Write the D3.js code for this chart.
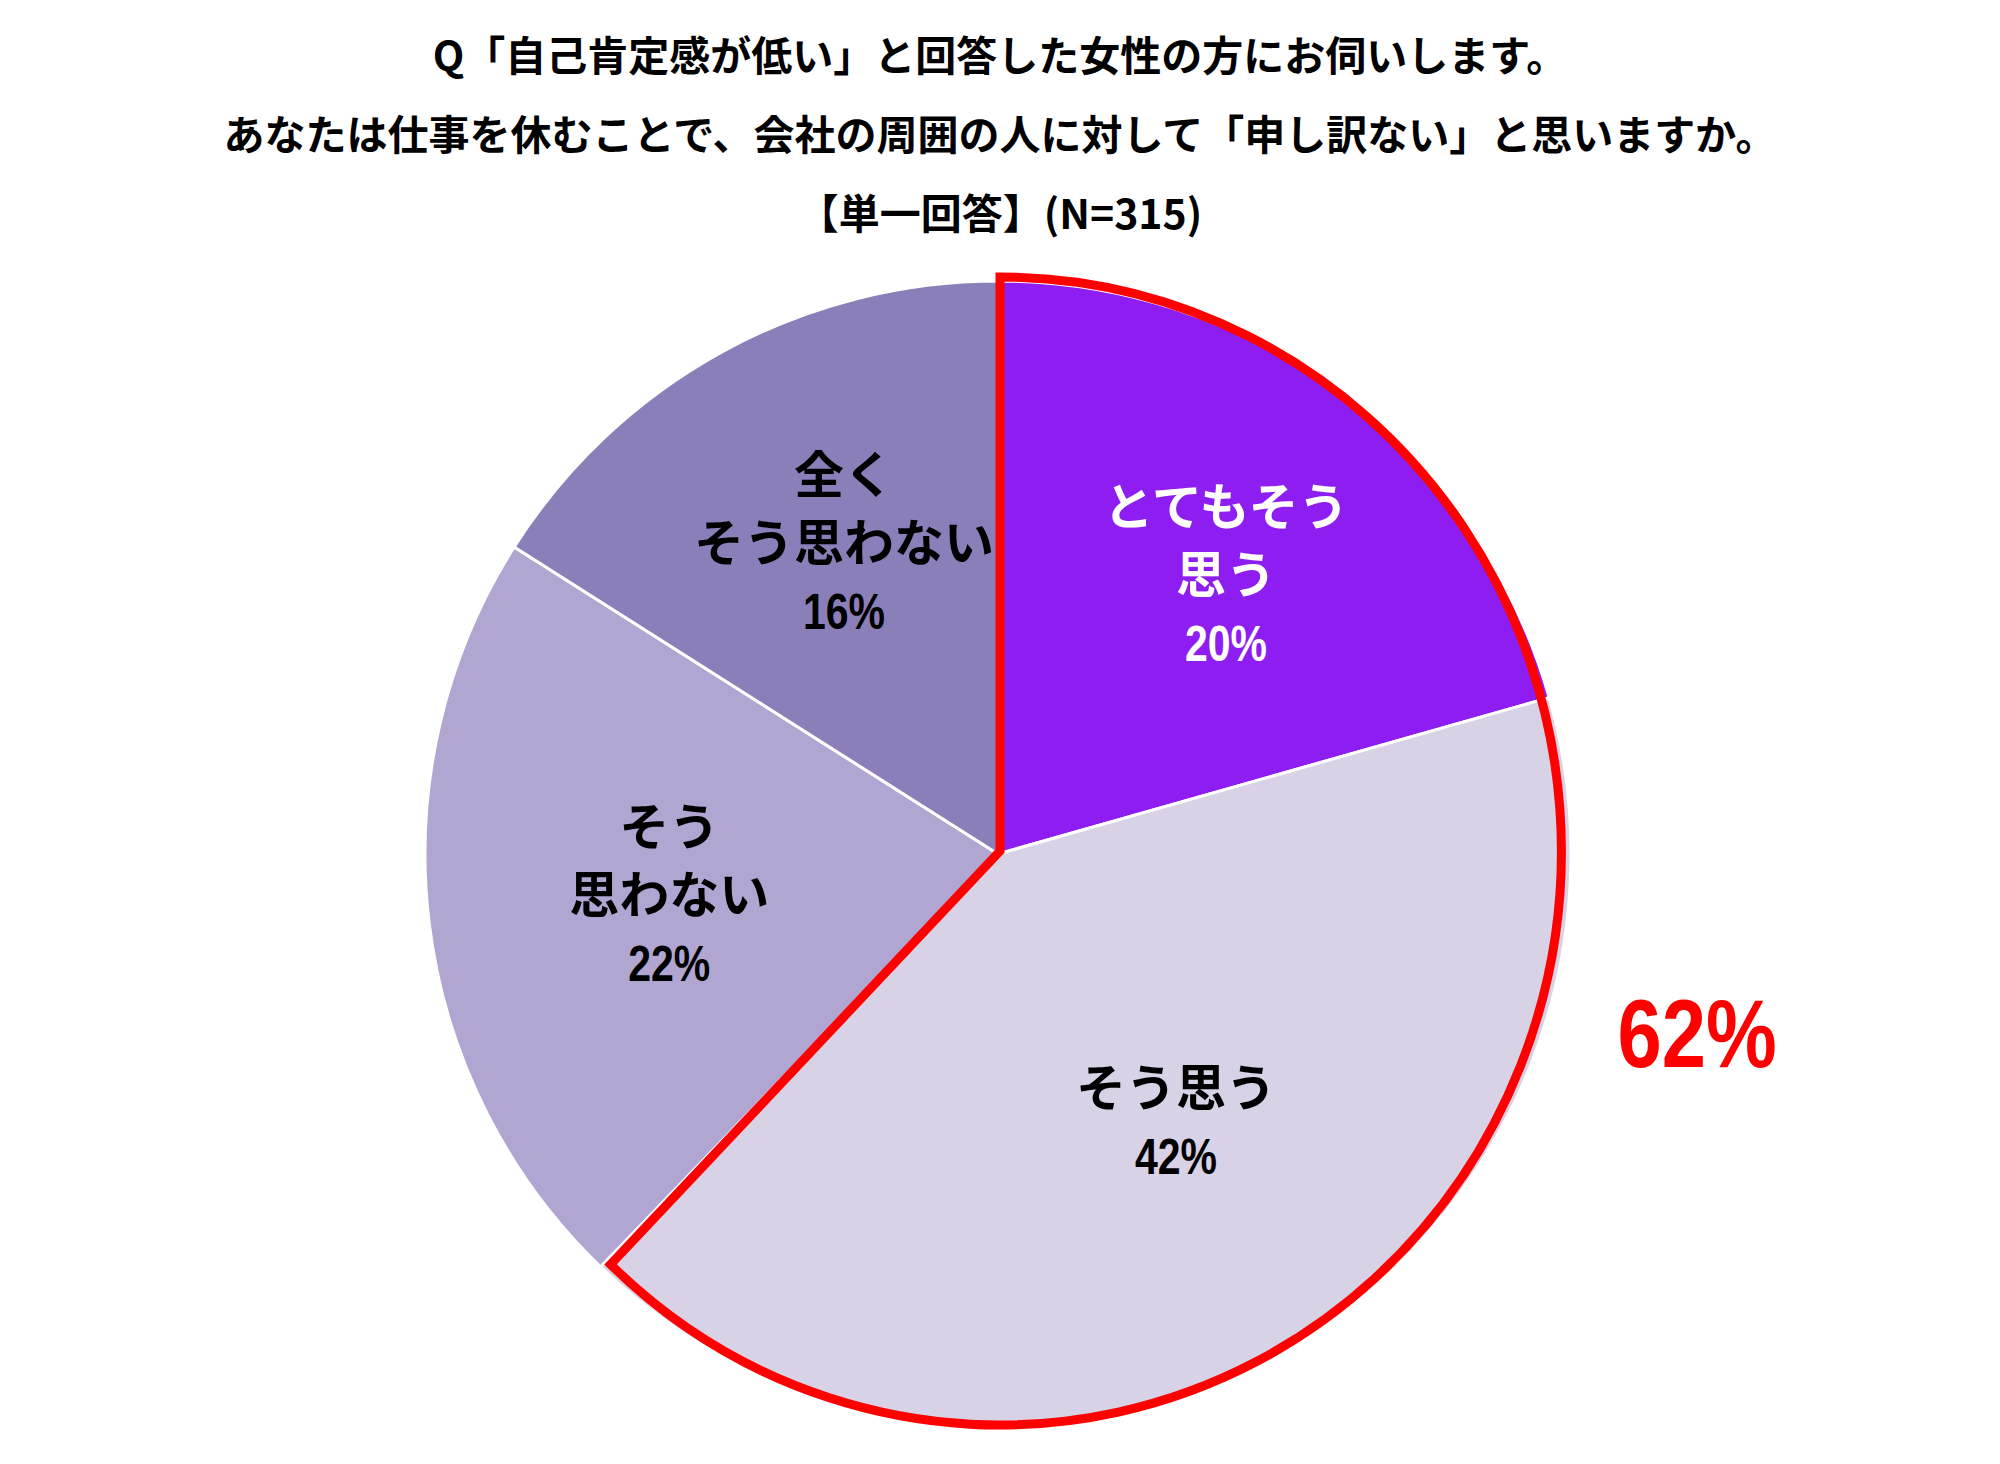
<!DOCTYPE html>
<html>
<head>
<meta charset="utf-8">
<script src="https://cdn.jsdelivr.net/npm/d3@7"></script>
<style>
    body { margin: 0; background: #ffffff; }
    text { font-family: 'Noto Sans CJK JP', sans-serif; font-weight: 700; }
    text.num { font-family: 'Liberation Sans', Arial, sans-serif; }
</style>
</head>
<body>
<div id="chart"></div>
<script>
// question text
var titles = [
    "Q「自己肯定感が低い」と回答した女性の方にお伺いします。",
    "あなたは仕事を休むことで、会社の周囲の人に対して「申し訳ない」と思いますか。",
    "【単一回答】(N=315)"
]

// slices, clockwise from 12 o'clock
var categories = [
    ["とてもそう", "思う"],
    ["そう思う"],
    ["そう", "思わない"],
    ["全く", "そう思わない"]
]
var values = [20.6, 41.6, 21.8, 16.0]
var valueLabels = ["20%", "42%", "22%", "16%"]
var colors = ["#8e1df2", "#d8d2e6", "#b1a6d2", "#8b7fba"]
var labelColors = ["#ffffff", "#000000", "#000000", "#000000"]

// highlighted group (とてもそう思う + そう思う)
var highlight = [0, 1]
var highlightLabel = "62%"

var width = 2000,
    height = 1464,
    cx = 998,
    cy = 854,
    radius = 573,
    narrow = 0.82   // digits are a condensed face

var svg = d3.select("#chart").append("svg")
    .attr("width", width)
    .attr("height", height)

svg.append("rect")
    .attr("width", width)
    .attr("height", height)
    .attr("fill", "#ffffff")

// title
svg.append("g")
    .selectAll("text")
    .data(titles)
    .enter().append("text")
    .attr("x", width / 2)
    .attr("y", function (d, i) {
        return 56 + i * 79
    })
    .attr("dy", "0.36em")
    .attr("text-anchor", "middle")
    .attr("font-size", 41)
    .attr("fill", "#000000")
    .text(function (d) {
        return d
    })

var pie = d3.pie()
    .sort(null)
    .value(function (d) {
        return d
    })

var arcs = pie(values)

var arc = d3.arc()
    .innerRadius(0)
    .outerRadius(radius)

var g = svg.append("g")
    .attr("transform", "translate(" + cx + "," + cy + ")")

// slices
g.selectAll("path.slice")
    .data(arcs)
    .enter().append("path")
    .attr("class", "slice")
    .attr("d", arc)
    .attr("fill", function (d, i) {
        return colors[i]
    })
    .attr("stroke", "#ffffff")
    .attr("stroke-width", 3)
    .attr("stroke-linejoin", "round")

// red outline round the highlighted slices
var hlArc = d3.arc()
    .innerRadius(0)
    .outerRadius(radius + 1)
    .startAngle(arcs[highlight[0]].startAngle)
    .endAngle(arcs[highlight[highlight.length - 1]].endAngle)

g.append("path")
    .attr("d", hlArc())
    .attr("transform", "translate(2,-3) scale(0.978,1)")
    .attr("fill", "none")
    .attr("stroke", "#ff0000")
    .attr("stroke-width", 9)
    .attr("stroke-linejoin", "miter")
    .attr("vector-effect", "non-scaling-stroke")

// label anchor: between the area centroid of the slice and 0.6 r
function labelPos(d) {
    var half = (d.endAngle - d.startAngle) / 2
    var rc = 4 * radius * Math.sin(half) / (6 * half)
    var r = (rc + radius * 0.6) / 2
    var a = (d.startAngle + d.endAngle) / 2
    return [r * Math.sin(a) + 17, -r * Math.cos(a)]
}

var lineH = 68
var lbl = g.selectAll("g.lbl")
    .data(arcs)
    .enter().append("g")
    .attr("class", "lbl")
    .attr("transform", function (d) {
        var c = labelPos(d)
        return "translate(" + c[0] + "," + c[1] + ")"
    })

lbl.each(function (d, i) {
    var n = categories[i].length + 1
    var top = -(n - 1) * lineH / 2
    var sel = d3.select(this)
    sel.append("text")
        .attr("text-anchor", "middle")
        .attr("font-size", 50)
        .attr("fill", labelColors[i])
        .selectAll("tspan")
        .data(categories[i])
        .enter().append("tspan")
        .attr("x", 0)
        .attr("y", function (t, j) {
            return top + j * lineH
        })
        .attr("dy", "0.36em")
        .text(function (t) {
            return t
        })
    sel.append("text")
        .attr("class", "num")
        .attr("text-anchor", "middle")
        .attr("font-size", 50)
        .attr("fill", labelColors[i])
        .attr("transform", "translate(0," + (top + (n - 1) * lineH) + ") scale(" + narrow + ",1)")
        .attr("dy", "0.36em")
        .text(valueLabels[i])
})

// total of highlighted group
g.append("text")
    .attr("class", "num")
    .attr("text-anchor", "middle")
    .attr("font-size", 97)
    .attr("fill", "#ff0000")
    .attr("transform", "translate(" + (radius * 1.22) + "," + (radius * 0.31) + ") scale(" + narrow + ",1)")
    .attr("dy", "0.36em")
    .text(highlightLabel)
</script>
</body>
</html>
